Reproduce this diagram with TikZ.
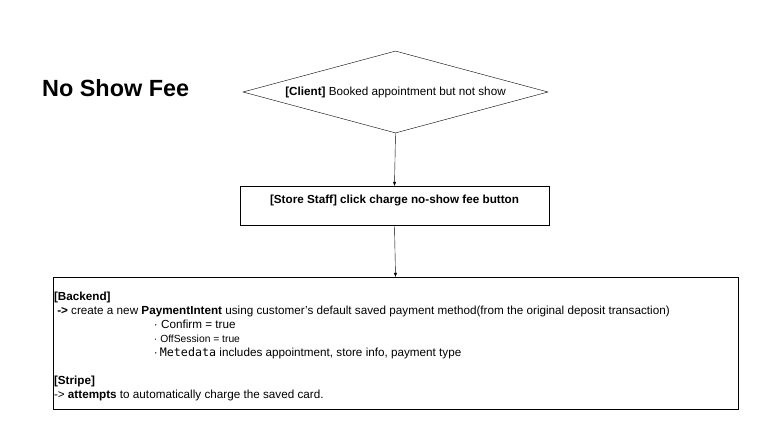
\documentclass[tikz,border=0pt]{standalone}
\usepackage{fontspec}
\setmainfont{Liberation Sans}
\setmonofont{DejaVu Sans Mono}
\usetikzlibrary{shapes.geometric,arrows.meta}
\begin{document}
\begin{tikzpicture}[x=1pt, y=-1pt, font=\fontsize{11.7}{14}\selectfont,
    box/.style ={draw, thin, inner sep=0pt},
    dia/.style ={draw, thin, diamond, aspect=3.7, inner sep=0pt, minimum width=305pt, minimum height=82pt},
    flow/.style={draw, thin, -{Triangle[length=4pt,width=3pt]}},
  ]
  \useasboundingbox (0,0) rectangle (772,423);
  \node[anchor=west, inner sep=0pt, font=\fontsize{23.4}{26}\selectfont\bfseries] (title) at (42,88) {No Show Fee};

  % client diamond
  \node[dia] (client) at (395.5,92) {\textbf{[Client]} Booked appointment but not show};

  % store staff box
  \node[box, minimum width=309pt, minimum height=39pt] (staff) at (394.5,205.5) {};
  \node[font=\fontsize{11.7}{14}\selectfont\bfseries] (stafftxt) at ([yshift=-15pt]staff.north) {[Store Staff] click charge no-show fee button};

  % backend / stripe box
  \node[box, minimum width=685pt, minimum height=132pt] (back) at (395.5,343) {};
  \node[anchor=north west, align=left, inner sep=0pt] (backtxt) at ([xshift=1pt,yshift=-15pt]back.north west)
    {\textbf{[Backend]}\\
     \ \textbf{->} create a new \textbf{PaymentIntent} using customer's default saved payment method(from the original deposit transaction)\\
     \hspace*{100pt}· Confirm = true\\
     \hspace*{100pt}{\fontsize{10.3}{14}\selectfont· OffSession = true}\\
     \hspace*{100pt}·\,\texttt{Metedata} includes appointment, store info, payment type\\[14pt]
     \textbf{[Stripe]}\\
     -> \textbf{attempts} to automatically charge the saved card.};

  \draw[flow] (client.south) -- (staff.north);
  \draw[flow] (staff.south) -- (back.north);
\end{tikzpicture}
\end{document}
